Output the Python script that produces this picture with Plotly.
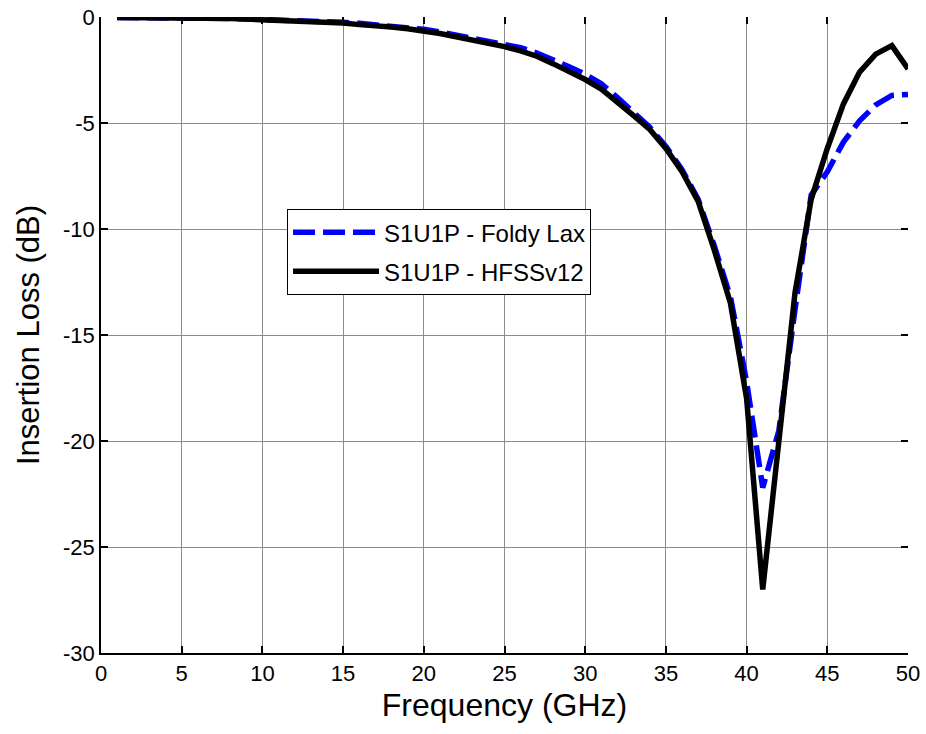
import plotly.graph_objects as go

# Frequency sweep, 1 GHz steps
freq_ghz = list(range(1, 51))

# Insertion loss (dB), HFSS v12 full-wave reference
hfss_db = [
    -0.02, -0.02, -0.03, -0.03, -0.04, -0.04, -0.05, -0.07, -0.10, -0.12,
    -0.14, -0.16, -0.19, -0.22, -0.28, -0.36, -0.40, -0.47, -0.55, -0.64,
    -0.78, -0.93, -1.07, -1.22, -1.40, -1.60, -1.85, -2.20, -2.55, -2.95,
    -3.40, -4.00, -4.65, -5.30, -6.20, -7.30, -8.70, -11.00, -13.50, -18.00,
    -27.00, -20.00, -13.00, -8.60, -6.20, -4.10, -2.60, -1.75, -1.35, -2.45,
]

# Insertion loss (dB), Foldy-Lax multiple scattering model
foldy_lax_db = [
    -0.02, -0.02, -0.03, -0.03, -0.04, -0.04, -0.05, -0.07, -0.09, -0.11,
    -0.13, -0.15, -0.17, -0.20, -0.25, -0.30, -0.36, -0.42, -0.50, -0.58,
    -0.70, -0.85, -0.97, -1.10, -1.25, -1.45, -1.70, -2.00, -2.35, -2.70,
    -3.15, -3.80, -4.50, -5.20, -6.10, -7.20, -8.60, -10.80, -13.20, -17.20,
    -22.20, -19.50, -13.80, -8.40, -7.30, -5.90, -4.90, -4.15, -3.70, -3.65,
]

# Tick positions and labels (plain hyphen-minus, as in the original figure)
x_ticks = [0, 5, 10, 15, 20, 25, 30, 35, 40, 45, 50]
x_tick_labels = ["0", "5", "10", "15", "20", "25", "30", "35", "40", "45", "50"]
y_ticks = [-30, -25, -20, -15, -10, -5, 0]
y_tick_labels = ["-30", "-25", "-20", "-15", "-10", "-5", "0"]

FONT = "Liberation Sans, Arial, sans-serif"
GRID = "#8c8c8c"

fig = go.Figure()
fig.add_trace(go.Scatter(
    x=freq_ghz, y=foldy_lax_db, mode="lines", name="S1U1P - Foldy Lax",
    legendgroup="foldy", line=dict(color="#0000ff", width=5.5, dash="22px,8px"),
))
fig.add_trace(go.Scatter(
    x=freq_ghz, y=hfss_db, mode="lines", name="S1U1P - HFSSv12",
    legendgroup="hfss", line=dict(color="#000000", width=5.5),
))
# Empty trace so the tick-only top/right axes get drawn
fig.add_trace(go.Scatter(
    x=[], y=[], xaxis="x2", yaxis="y2", mode="lines",
    showlegend=False, hoverinfo="skip",
))

tick_style = dict(ticks="inside", ticklen=7, tickwidth=1.5, tickcolor="black")

axis_common = dict(
    showgrid=True, gridcolor=GRID, gridwidth=1,
    zeroline=False, automargin=False,
    showline=True, linecolor="black", linewidth=1.5,
    tickfont=dict(family=FONT, size=22, color="black"),
    **tick_style,
)

# Tick-only axes on the top and right edges of the box
mirror_common = dict(
    showgrid=False, zeroline=False, showline=False,
    showticklabels=False, automargin=False, **tick_style,
)

fig.update_layout(
    width=926, height=734,
    margin=dict(l=101, r=18, t=17, b=81),
    paper_bgcolor="white", plot_bgcolor="white",
    font=dict(family=FONT, color="black"),
    showlegend=True,
    legend=dict(
        x=0.2305, y=0.698, xanchor="left", yanchor="top",
        bgcolor="white", bordercolor="black", borderwidth=1,
        font=dict(family=FONT, size=24, color="black"),
        itemwidth=86, tracegroupgap=5,
    ),
    xaxis=dict(
        range=[0, 50], tickvals=x_ticks, ticktext=x_tick_labels,
        title=dict(text="Frequency (GHz)", font=dict(family=FONT, size=32, color="black"), standoff=8),
        **axis_common,
    ),
    yaxis=dict(
        range=[-30, 0], tickvals=y_ticks, ticktext=y_tick_labels,
        title=dict(text="Insertion Loss (dB)", font=dict(family=FONT, size=31, color="black"), standoff=14),
        **axis_common,
    ),
    xaxis2=dict(
        overlaying="x", side="top", anchor="y2",
        range=[0, 50], tickvals=x_ticks, **mirror_common,
    ),
    yaxis2=dict(
        overlaying="y", side="right", anchor="x2",
        range=[-30, 0], tickvals=y_ticks, **mirror_common,
    ),
)

fig.write_html("out.html")
